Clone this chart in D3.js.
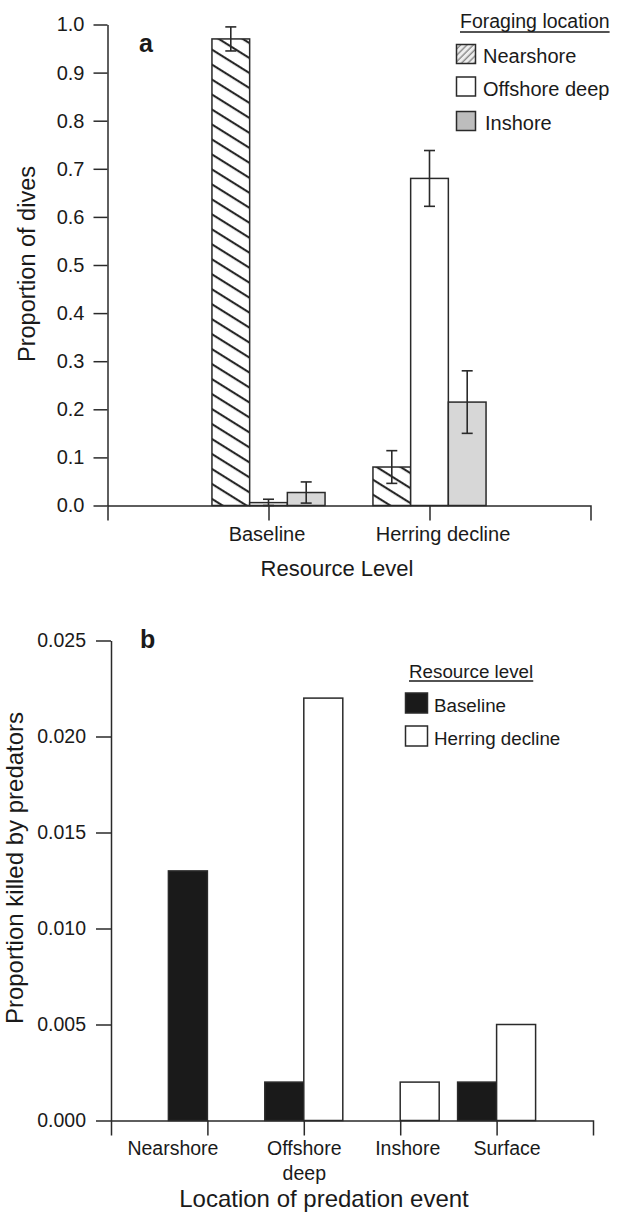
<!DOCTYPE html>
<html>
<head>
<meta charset="utf-8">
<script src="https://cdn.jsdelivr.net/npm/d3@7"></script>
<style>
  html, body { margin: 0; padding: 0; background: #fff; }
  svg { display: block; }
  text { font-family: "Liberation Sans", Arial, Helvetica, sans-serif; fill: #1a1a1a; }
</style>
</head>
<body>
<svg id="chart" width="622" height="1214"></svg>
<script>
// ---------- Data: panel a ----------
const resourceLevels = ["Baseline", "Herring decline"];
const foragingLocations = ["Nearshore", "Offshore deep", "Inshore"];
const diveNearshore = [0.970, 0.080];
const diveOffshore  = [0.006, 0.680];
const diveInshore   = [0.027, 0.215];
const errNearshore  = [0.025, 0.034];
const errOffshore   = [0.007, 0.058];
const errInshore    = [0.022, 0.065];
const yTicksA = [0, 0.1, 0.2, 0.3, 0.4, 0.5, 0.6, 0.7, 0.8, 0.9, 1.0];

// ---------- Data: panel b ----------
const predationLocations = ["Nearshore", "Offshore deep", "Inshore", "Surface"];
const resourceLegend = ["Baseline", "Herring decline"];
const killedBaseline = [0.013, 0.002, 0.000, 0.002];
const killedHerring  = [0.000, 0.022, 0.002, 0.005];
const yTicksB = [0, 0.005, 0.010, 0.015, 0.020, 0.025];

// ---------- Setup ----------
const svg = d3.select("#chart");
const ink = "#1a1a1a", line = "#2a2a2a";
svg.append("rect").attr("width", 622).attr("height", 1214).attr("fill", "#fff");

const defs = svg.append("defs");
const hp = defs.append("pattern").attr("id", "hatch")
  .attr("patternUnits", "userSpaceOnUse").attr("width", 12).attr("height", 12.7)
  .attr("patternTransform", "rotate(32)");
hp.append("rect").attr("width", 12).attr("height", 12.7).attr("fill", "#fff");
hp.append("line").attr("x1", -1).attr("x2", 13).attr("y1", 6).attr("y2", 6)
  .attr("stroke", "#1a1a1a").attr("stroke-width", 2);
const lp = defs.append("pattern").attr("id", "hatchLegend")
  .attr("patternUnits", "userSpaceOnUse").attr("width", 4.5).attr("height", 4.5)
  .attr("patternTransform", "rotate(-45)");
lp.append("rect").attr("width", 4.5).attr("height", 4.5).attr("fill", "#eeeeee");
lp.append("line").attr("x1", -1).attr("x2", 6).attr("y1", 2).attr("y2", 2)
  .attr("stroke", "#8a8a8a").attr("stroke-width", 1.4);

function styleAxis(g, fs) {
  g.selectAll("path, line").attr("stroke", line).attr("stroke-width", 1.5);
  g.selectAll("text").attr("fill", ink).style("font-size", fs + "px")
    .style("font-family", '"Liberation Sans", Arial, Helvetica, sans-serif');
}

// ================= Panel a =================
const yA = d3.scaleLinear().domain([0, 1]).range([505.5, 24.5]);
const xA = d3.scalePoint().domain(resourceLevels).range([107.5, 590.5]).padding(1);
const bwA = 37.7;
const seriesA = [
  { name: foragingLocations[0], vals: diveNearshore, errs: errNearshore, fill: "url(#hatch)" },
  { name: foragingLocations[1], vals: diveOffshore,  errs: errOffshore,  fill: "#ffffff" },
  { name: foragingLocations[2], vals: diveInshore,   errs: errInshore,   fill: "#d7d7d7" }
];

const gA = svg.append("g");
seriesA.forEach((s, i) => {
  resourceLevels.forEach((lvl, j) => {
    const x0 = xA(lvl) + (i - 1.5) * bwA;
    const v = s.vals[j];
    gA.append("rect")
      .attr("x", x0).attr("y", yA(v))
      .attr("width", bwA).attr("height", yA(0) - yA(v))
      .attr("fill", s.fill).attr("stroke", line).attr("stroke-width", 1.5);
  });
});
// error bars
seriesA.forEach((s, i) => {
  resourceLevels.forEach((lvl, j) => {
    const cx = xA(lvl) + (i - 1) * bwA;
    const hi = s.vals[j] + s.errs[j];
    const lo = Math.max(0, s.vals[j] - s.errs[j]);
    gA.append("line").attr("x1", cx).attr("x2", cx).attr("y1", yA(hi)).attr("y2", yA(lo))
      .attr("stroke", line).attr("stroke-width", 1.6);
    [hi, lo].forEach(v => {
      gA.append("line").attr("x1", cx - 5.5).attr("x2", cx + 5.5).attr("y1", yA(v)).attr("y2", yA(v))
        .attr("stroke", line).attr("stroke-width", 1.6);
    });
  });
});

const yAxA = svg.append("g").attr("transform", "translate(107.5,0)")
  .call(d3.axisLeft(yA).tickValues(yTicksA).tickFormat(d3.format(".1f"))
    .tickSize(14).tickSizeOuter(0).tickPadding(9));
styleAxis(yAxA, 20);

const labelDxA = [-2, 13];
const xAxA = svg.append("g").attr("transform", "translate(0,505.5)")
  .call(d3.axisBottom(xA).tickSize(15).tickSizeOuter(15).tickPadding(6));
styleAxis(xAxA, 20);
xAxA.selectAll(".tick text").attr("dx", (d, i) => labelDxA[i]);

svg.append("text").attr("x", 337).attr("y", 576).attr("text-anchor", "middle")
  .style("font-size", "22px").text("Resource Level");
svg.append("text").attr("transform", "translate(35,264) rotate(-90)").attr("text-anchor", "middle")
  .style("font-size", "23.5px").text("Proportion of dives");
svg.append("text").attr("x", 139).attr("y", 52).style("font-size", "25px")
  .style("font-weight", "bold").text("a");

// legend a
const legA = svg.append("g");
const legATitle = legA.append("text").attr("x", 460).attr("y", 28).style("font-size", "19.5px")
  .text("Foraging location");
const ltw = legATitle.node().getComputedTextLength();
legA.append("line").attr("x1", 460).attr("x2", 460 + ltw).attr("y1", 32).attr("y2", 32)
  .attr("stroke", ink).attr("stroke-width", 1.3);
const legARowsY = [44.5, 77, 111.5];
const legAFills = ["url(#hatchLegend)", "#ffffff", "#bdbdbd"];
foragingLocations.forEach((name, i) => {
  legA.append("rect").attr("x", 456.5).attr("y", legARowsY[i]).attr("width", 19).attr("height", 19)
    .attr("fill", legAFills[i]).attr("stroke", line).attr("stroke-width", 1.5);
  legA.append("text").attr("x", i === 2 ? 485 : 483).attr("y", legARowsY[i] + 18.5)
    .style("font-size", "20px").text(name);
});

// ================= Panel b =================
const yB = d3.scaleLinear().domain([0, 0.025]).range([1120.5, 640.5]);
const xB = d3.scalePoint().domain(predationLocations).range([111, 593]).padding(1);
const bwB = 39;
const seriesB = [
  { name: resourceLegend[0], vals: killedBaseline, fill: "#1a1a1a", off: -1 },
  { name: resourceLegend[1], vals: killedHerring,  fill: "#ffffff", off: 0 }
];
const gB = svg.append("g");
seriesB.forEach(s => {
  predationLocations.forEach((loc, j) => {
    const v = s.vals[j];
    gB.append("rect")
      .attr("x", xB(loc) + s.off * bwB).attr("y", yB(v))
      .attr("width", bwB).attr("height", yB(0) - yB(v))
      .attr("fill", s.fill).attr("stroke", line).attr("stroke-width", 1.5);
  });
});

const yAxB = svg.append("g").attr("transform", "translate(111,0)")
  .call(d3.axisLeft(yB).tickValues(yTicksB).tickFormat(d3.format(".3f"))
    .tickSize(15).tickSizeOuter(0).tickPadding(10));
styleAxis(yAxB, 19.5);

const labelDxB = [-35, 0, 7, 10];
const xAxB = svg.append("g").attr("transform", "translate(0,1120.5)")
  .call(d3.axisBottom(xB).tickSize(15).tickSizeOuter(15).tickPadding(6));
styleAxis(xAxB, 19.5);
xAxB.selectAll(".tick text").each(function (d, i) {
  const t = d3.select(this);
  const words = d.split(" ");
  t.text(null);
  words.forEach((w, k) => {
    t.append("tspan").attr("x", labelDxB[i]).attr("dy", k === 0 ? "0.71em" : "1.25em").text(w);
  });
  t.attr("dy", null);
});

svg.append("text").attr("x", 324).attr("y", 1207).attr("text-anchor", "middle")
  .style("font-size", "24px").text("Location of predation event");
svg.append("text").attr("transform", "translate(23,868) rotate(-90)").attr("text-anchor", "middle")
  .style("font-size", "24px").text("Proportion killed by predators");
svg.append("text").attr("x", 140).attr("y", 648).style("font-size", "25px")
  .style("font-weight", "bold").text("b");

// legend b
const legB = svg.append("g");
const legBTitle = legB.append("text").attr("x", 409).attr("y", 677.5).style("font-size", "18.8px")
  .text("Resource level");
const lbw = legBTitle.node().getComputedTextLength();
legB.append("line").attr("x1", 409).attr("x2", 409 + lbw).attr("y1", 681).attr("y2", 681)
  .attr("stroke", ink).attr("stroke-width", 1.3);
const legBRowsY = [693, 726];
const legBFills = ["#1a1a1a", "#ffffff"];
resourceLegend.forEach((name, i) => {
  legB.append("rect").attr("x", 405.5).attr("y", legBRowsY[i]).attr("width", 22).attr("height", 20)
    .attr("fill", legBFills[i]).attr("stroke", line).attr("stroke-width", 1.5);
  legB.append("text").attr("x", 434).attr("y", legBRowsY[i] + 18.5)
    .style("font-size", "18.8px").text(name);
});
</script>
</body>
</html>
